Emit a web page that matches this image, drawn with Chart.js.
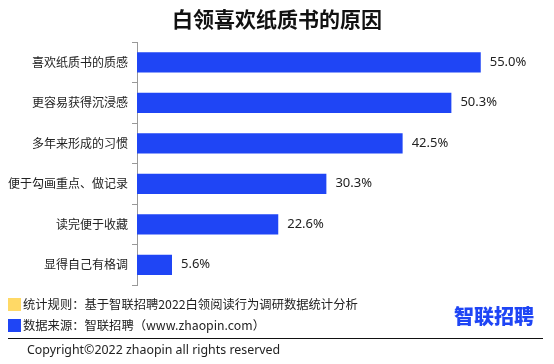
<!DOCTYPE html>
<html>
<head>
<meta charset="utf-8">
<script src="https://cdn.jsdelivr.net/npm/chart.js@4"></script>
<style>
  body { margin: 0; background: #fff; font-family: "Noto Sans CJK SC", sans-serif; }
  #wrap { position: relative; width: 554px; height: 364px; overflow: hidden; }
  #title { position: absolute; left: 0; top: 3px; width: 554px; text-align: center;
    font-size: 21px; font-weight: bold; color: #111; }
  .note { position: absolute; left: 8px; font-size: 12.3px; color: #222; line-height: 14px; }
  .box { display: inline-block; width: 13px; height: 13px; vertical-align: -2px; margin-right: 2px; }
  #rule { position: absolute; left: 8px; top: 338px; width: 535px; height: 1px; background: #111; }
  #copy { position: absolute; left: 27px; top: 341px; font-size: 12.4px; color: #222;
    font-family: "Noto Sans", sans-serif; }
  #logo { position: absolute; left: 454px; top: 301px; font-size: 20px; font-weight: 900;
    color: #1f45f5; }
</style>
</head>
<body>
<div id="wrap">
  <canvas id="chart" width="554" height="364"></canvas>
  <div id="title">白领喜欢纸质书的原因</div>
  <div class="note" style="top:297px"><span class="box" style="background:#ffd966"></span>统计规则：基于智联招聘2022白领阅读行为调研数据统计分析</div>
  <div class="note" style="top:318px"><span class="box" style="background:#1f45f5"></span>数据来源：智联招聘（www.zhaopin.com）</div>
  <div id="logo">智联招聘</div>
  <div id="rule"></div>
  <div id="copy">Copyright©2022 zhaopin all rights reserved</div>
</div>
<script>
// Data
const reasons = ["喜欢纸质书的质感", "更容易获得沉浸感", "多年来形成的习惯", "便于勾画重点、做记录", "读完便于收藏", "显得自己有格调"];
const shares = [55.0, 50.3, 42.5, 30.3, 22.6, 5.6];

// value labels after each bar
const valueLabels = {
  id: "valueLabels",
  afterDatasetsDraw(chart) {
    const ctx = chart.ctx;
    const meta = chart.getDatasetMeta(0);
    ctx.save();
    ctx.font = '13px "Noto Sans", sans-serif';
    ctx.fillStyle = "#222";
    ctx.textBaseline = "middle";
    meta.data.forEach((bar, i) => {
      ctx.fillText(shares[i].toFixed(1) + "%", bar.x + 9, bar.y);
    });
    ctx.restore();
  }
};

new Chart(document.getElementById("chart"), {
  type: "bar",
  data: {
    labels: reasons,
    datasets: [{
      data: shares,
      backgroundColor: "#1f45f5",
      barPercentage: 0.5,
      categoryPercentage: 1
    }]
  },
  options: {
    indexAxis: "y",
    responsive: false,
    animation: false,
    layout: { padding: { top: 42, bottom: 79, right: 42, left: 0 } },
    plugins: { legend: { display: false }, tooltip: { enabled: false } },
    scales: {
      x: { display: false, min: 0, max: 60 },
      y: {
        afterFit: (scale) => { scale.width = 137; },
        border: { display: true, color: "#999" },
        grid: { drawOnChartArea: false, tickLength: 5, color: "#999" },
        ticks: { color: "#222", padding: 4, font: { size: 12, family: '"Noto Sans CJK SC", sans-serif' } }
      }
    }
  },
  plugins: [valueLabels]
});
</script>
</body>
</html>
